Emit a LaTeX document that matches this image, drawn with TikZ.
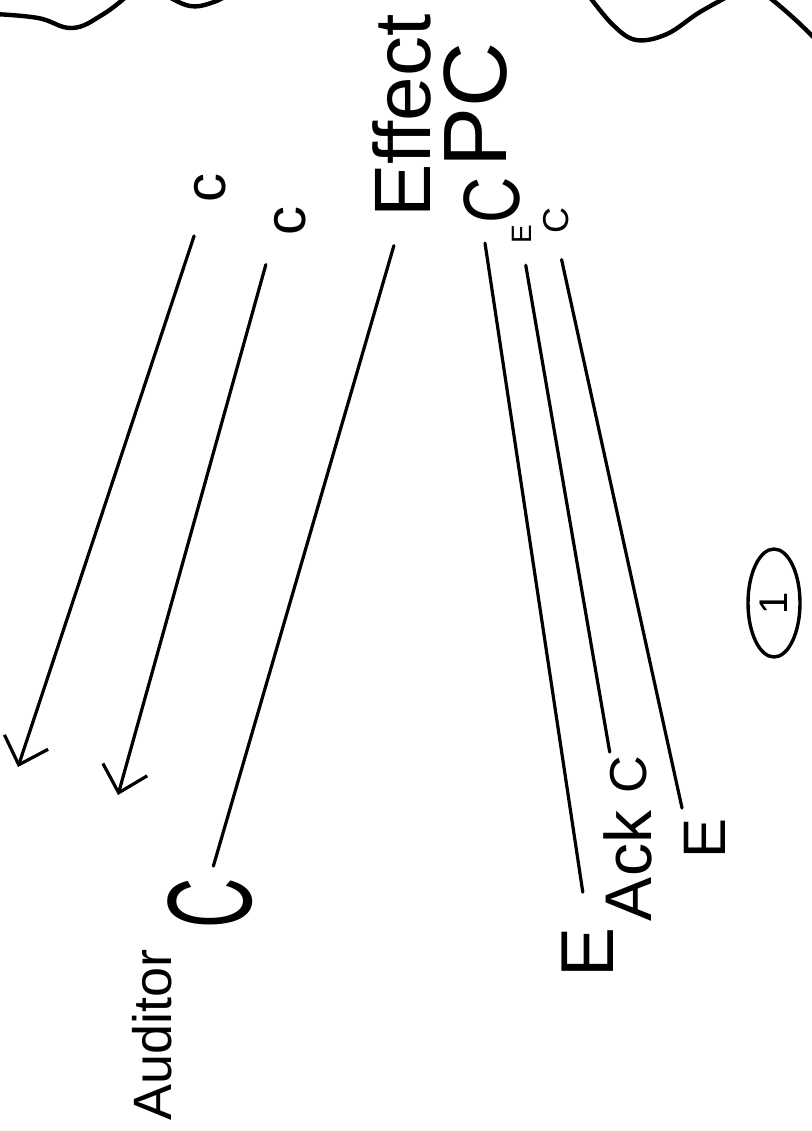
\documentclass[tikz,border=0pt]{standalone}
\usepackage{fontspec}
\setmainfont{Liberation Sans}
\usepackage{tikz}
\usetikzlibrary{calc, arrows.meta, shapes.geometric}
\definecolor{ink}{RGB}{0, 0, 0}
\newcommand{\handsize}[1]{\fontsize{#1}{#1}\selectfont}
\tikzset{
  scrawl/.style={ink, rotate=90, inner sep=0pt, font=\handsize{#1}},
  lifeline/.style={ink, line width=3.2, line cap=round},
  wave/.style={ink, line width=4.4, line cap=round, line join=round}
}

\begin{document}
\begin{tikzpicture}[x=1pt, y=-1pt]
  \useasboundingbox (0, 0) rectangle (811, 1131);

  % wavy edge along the top
  \draw[wave] plot [smooth, tension=0.7] coordinates { (-6, 14) (38, 18) (72, 28) (102, 15) (127, -4) };
  \draw[wave] plot [smooth, tension=0.7] coordinates { (166, -5) (190, 6) (214, 2) (232, -8) };
  \draw[wave] plot [smooth, tension=0.6] coordinates { (586, -8) (612, 24) (636, 40) (667, 34) (700, 12) (740, -10) };
  \draw[wave] plot [smooth, tension=0.6] coordinates { (765, -6) (781, 7) (800, 24) (818, 42) };

  % labels, all written sideways
  \node[scrawl=58] (cLeft) at (210, 188) { c };
  \node[scrawl=58] (cMid) at (290, 221) { c };
  \node[scrawl=80] (effect) at (402, 116) { Effect };
  \node[scrawl=90] (pc) at (476, 105) { PC };
  \node[scrawl=80] (cBig) at (492, 200) { \scalebox{0.8}[1]{C} };
  \node[scrawl=28] (eSub) at (522, 234) { E };
  \node[scrawl=36] (cSub) at (556, 221) { C };

  \node[scrawl=120] (cBottom) at (210, 903) { \scalebox{0.58}[1]{C} };
  \node[scrawl=54] (auditor) at (152, 1035) { Auditor };

  \node[scrawl=75] (eLeft) at (588, 952) { E };
  \node[scrawl=66] (ack) at (628, 866) { Ack };
  \node[scrawl=52] (cAck) at (629, 775) { C };
  \node[scrawl=60] (eRight) at (705, 838) { E };
  \node[scrawl=40, draw, ellipse, line width=3.4, minimum width=108, minimum height=52] (one) at (774, 603) { 1 };

  % loose ends of the two arrows
  \coordinate (tipLeft) at (18, 767);
  \coordinate (tipMid) at (118, 795);

  \draw[lifeline, -{Straight Barb[length=24pt, width=46pt]}, shorten <=35pt] (cLeft) -- (tipLeft);
  \draw[lifeline, -{Straight Barb[length=24pt, width=46pt]}, shorten <=30pt] (cMid.north west) -- (tipMid);
  \draw[lifeline, shorten <=29pt, shorten >=12pt] (effect.west) -- (cBottom.east);

  \draw[lifeline, shorten <=20pt, shorten >=35pt] ($(cBig.west) + (-10, 0)$) -- (eLeft.east);
  \draw[lifeline, shorten <=22pt, shorten >=4pt] (eSub.west) -- (cAck.north east);
  \draw[lifeline, shorten <=26pt, shorten >=10pt] (cSub.west) -- (eRight.north east);

\end{tikzpicture}
\end{document}
